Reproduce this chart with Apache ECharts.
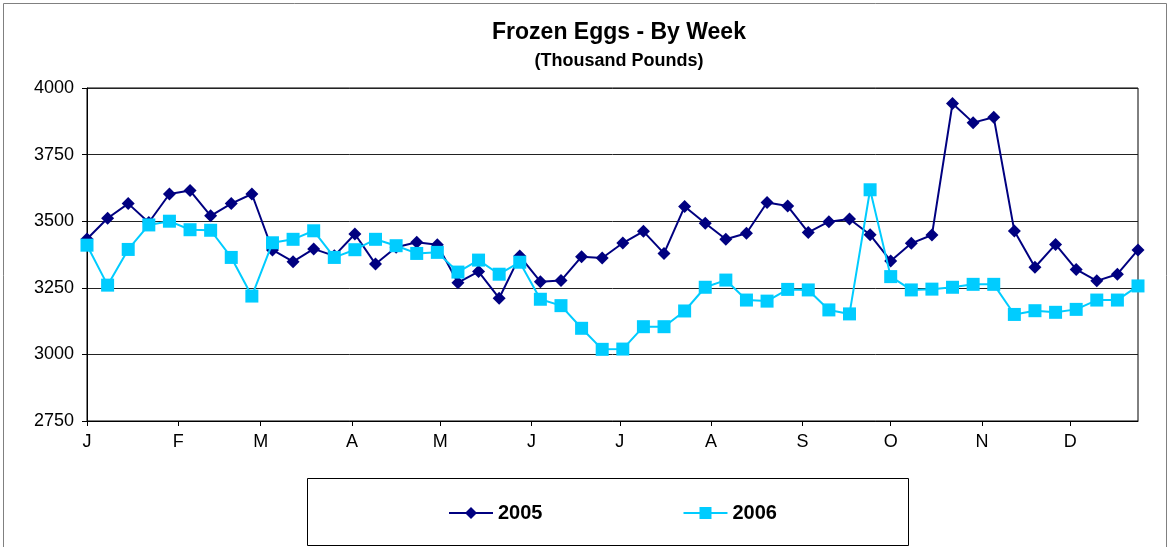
<!DOCTYPE html>
<html>
<head>
<meta charset="utf-8">
<script src="https://cdn.jsdelivr.net/npm/echarts@6/dist/echarts.min.js"></script>
<style>
html,body{margin:0;padding:0;background:#fff;}
#chart{width:1170px;height:547px;}
</style>
</head>
<body>
<div id="chart"></div>
<script>
// Month tick positions (day of year) and labels
const monthStartDays = [0, 31, 59, 90, 120, 151, 181, 212, 243, 273, 304, 334];
const monthLabels = ['J', 'F', 'M', 'A', 'M', 'J', 'J', 'A', 'S', 'O', 'N', 'D'];
const daysPerWeek = 7;

// Weekly values (thousand pounds), 52 weeks
const values2005 = [
  3433, 3511, 3566, 3495, 3602, 3615, 3520, 3566, 3602, 3392,
  3348, 3396, 3370, 3452, 3339, 3402, 3421, 3412, 3269, 3311,
  3211, 3369, 3273, 3277, 3367, 3362, 3418, 3462, 3379, 3555,
  3492, 3432, 3455, 3570, 3557, 3458, 3498, 3508, 3449, 3351,
  3417, 3448, 3942, 3870, 3890, 3463, 3327, 3413, 3319, 3276,
  3301, 3392
];
const values2006 = [
  3410, 3260, 3394, 3486, 3500, 3468, 3466, 3364, 3219, 3419,
  3432, 3464, 3364, 3393, 3432, 3408, 3379, 3383, 3309, 3354,
  3301, 3346, 3207, 3183, 3098, 3019, 3020, 3104, 3104, 3163,
  3252, 3279, 3204, 3200, 3244, 3242, 3167, 3152, 3618, 3292,
  3242, 3245, 3252, 3263, 3263, 3150, 3164, 3158, 3169, 3204,
  3204, 3257
];
const yTicks = { min: 2750, max: 4000, step: 250 };

function toPoints(vals) {
  return vals.map((v, i) => [i * daysPerWeek, v]);
}

const chart = echarts.init(document.getElementById('chart'), null, { renderer: 'canvas' });
const FONT = '"Liberation Sans", Arial, sans-serif';

chart.setOption({
  animation: false,
  backgroundColor: '#fff',
  title: {
    text: 'Frozen Eggs - By Week',
    subtext: '(Thousand Pounds)',
    left: 614,
    textAlign: 'center',
    top: 16,
    itemGap: 8,
    textStyle: { fontFamily: FONT, fontWeight: 'bold', fontSize: 23, color: '#000' },
    subtextStyle: { fontFamily: FONT, fontWeight: 'bold', fontSize: 18, color: '#000' }
  },
  grid: {
    left: 87, right: 32, top: 88, bottom: 126,
    show: true, borderColor: '#000', borderWidth: 1, backgroundColor: 'transparent'
  },
  xAxis: {
    type: 'value',
    min: 0,
    max: (values2005.length - 1) * daysPerWeek,
    axisLine: { show: true, onZero: false, lineStyle: { color: '#000', width: 1 } },
    axisTick: { show: true, customValues: monthStartDays, length: 5, lineStyle: { color: '#000' } },
    axisLabel: {
      customValues: monthStartDays,
      formatter: (v) => monthLabels[monthStartDays.indexOf(v)] || '',
      fontFamily: FONT, fontSize: 18, color: '#000', margin: 12
    },
    splitLine: { show: false }
  },
  yAxis: {
    type: 'value',
    min: yTicks.min, max: yTicks.max, interval: yTicks.step,
    axisLine: { show: true, lineStyle: { color: '#000', width: 1 } },
    axisTick: { show: true, length: 5, lineStyle: { color: '#000' } },
    axisLabel: { fontFamily: FONT, fontSize: 18, color: '#000', margin: 13, formatter: (v) => String(v) },
    splitLine: { show: true, lineStyle: { color: '#222', width: 1 } }
  },
  legend: {
    left: 443,
    top: 498,
    itemWidth: 44,
    itemHeight: 15,
    itemGap: 140,
    textStyle: { fontFamily: FONT, fontWeight: 'bold', fontSize: 20, color: '#000' },
    data: ['2005', '2006']
  },
  graphic: [
    { type: 'rect', shape: { x: 3.5, y: 3.5, width: 1163, height: 600 },
      style: { fill: 'none', stroke: '#808080', lineWidth: 1 }, silent: true, z: -10 },
    { type: 'rect', shape: { x: 307.5, y: 478.5, width: 601, height: 67 },
      style: { fill: 'none', stroke: '#000', lineWidth: 1 }, silent: true }
  ],
  series: [
    {
      name: '2005', type: 'line', data: toPoints(values2005),
      symbol: 'diamond', symbolSize: 13,
      lineStyle: { color: '#000080', width: 2 },
      itemStyle: { color: '#000080' },
      z: 2
    },
    {
      name: '2006', type: 'line', data: toPoints(values2006),
      symbol: 'rect', symbolSize: 13,
      lineStyle: { color: '#00CCFF', width: 2 },
      itemStyle: { color: '#00CCFF' },
      z: 3
    }
  ]
});
</script>
</body>
</html>
